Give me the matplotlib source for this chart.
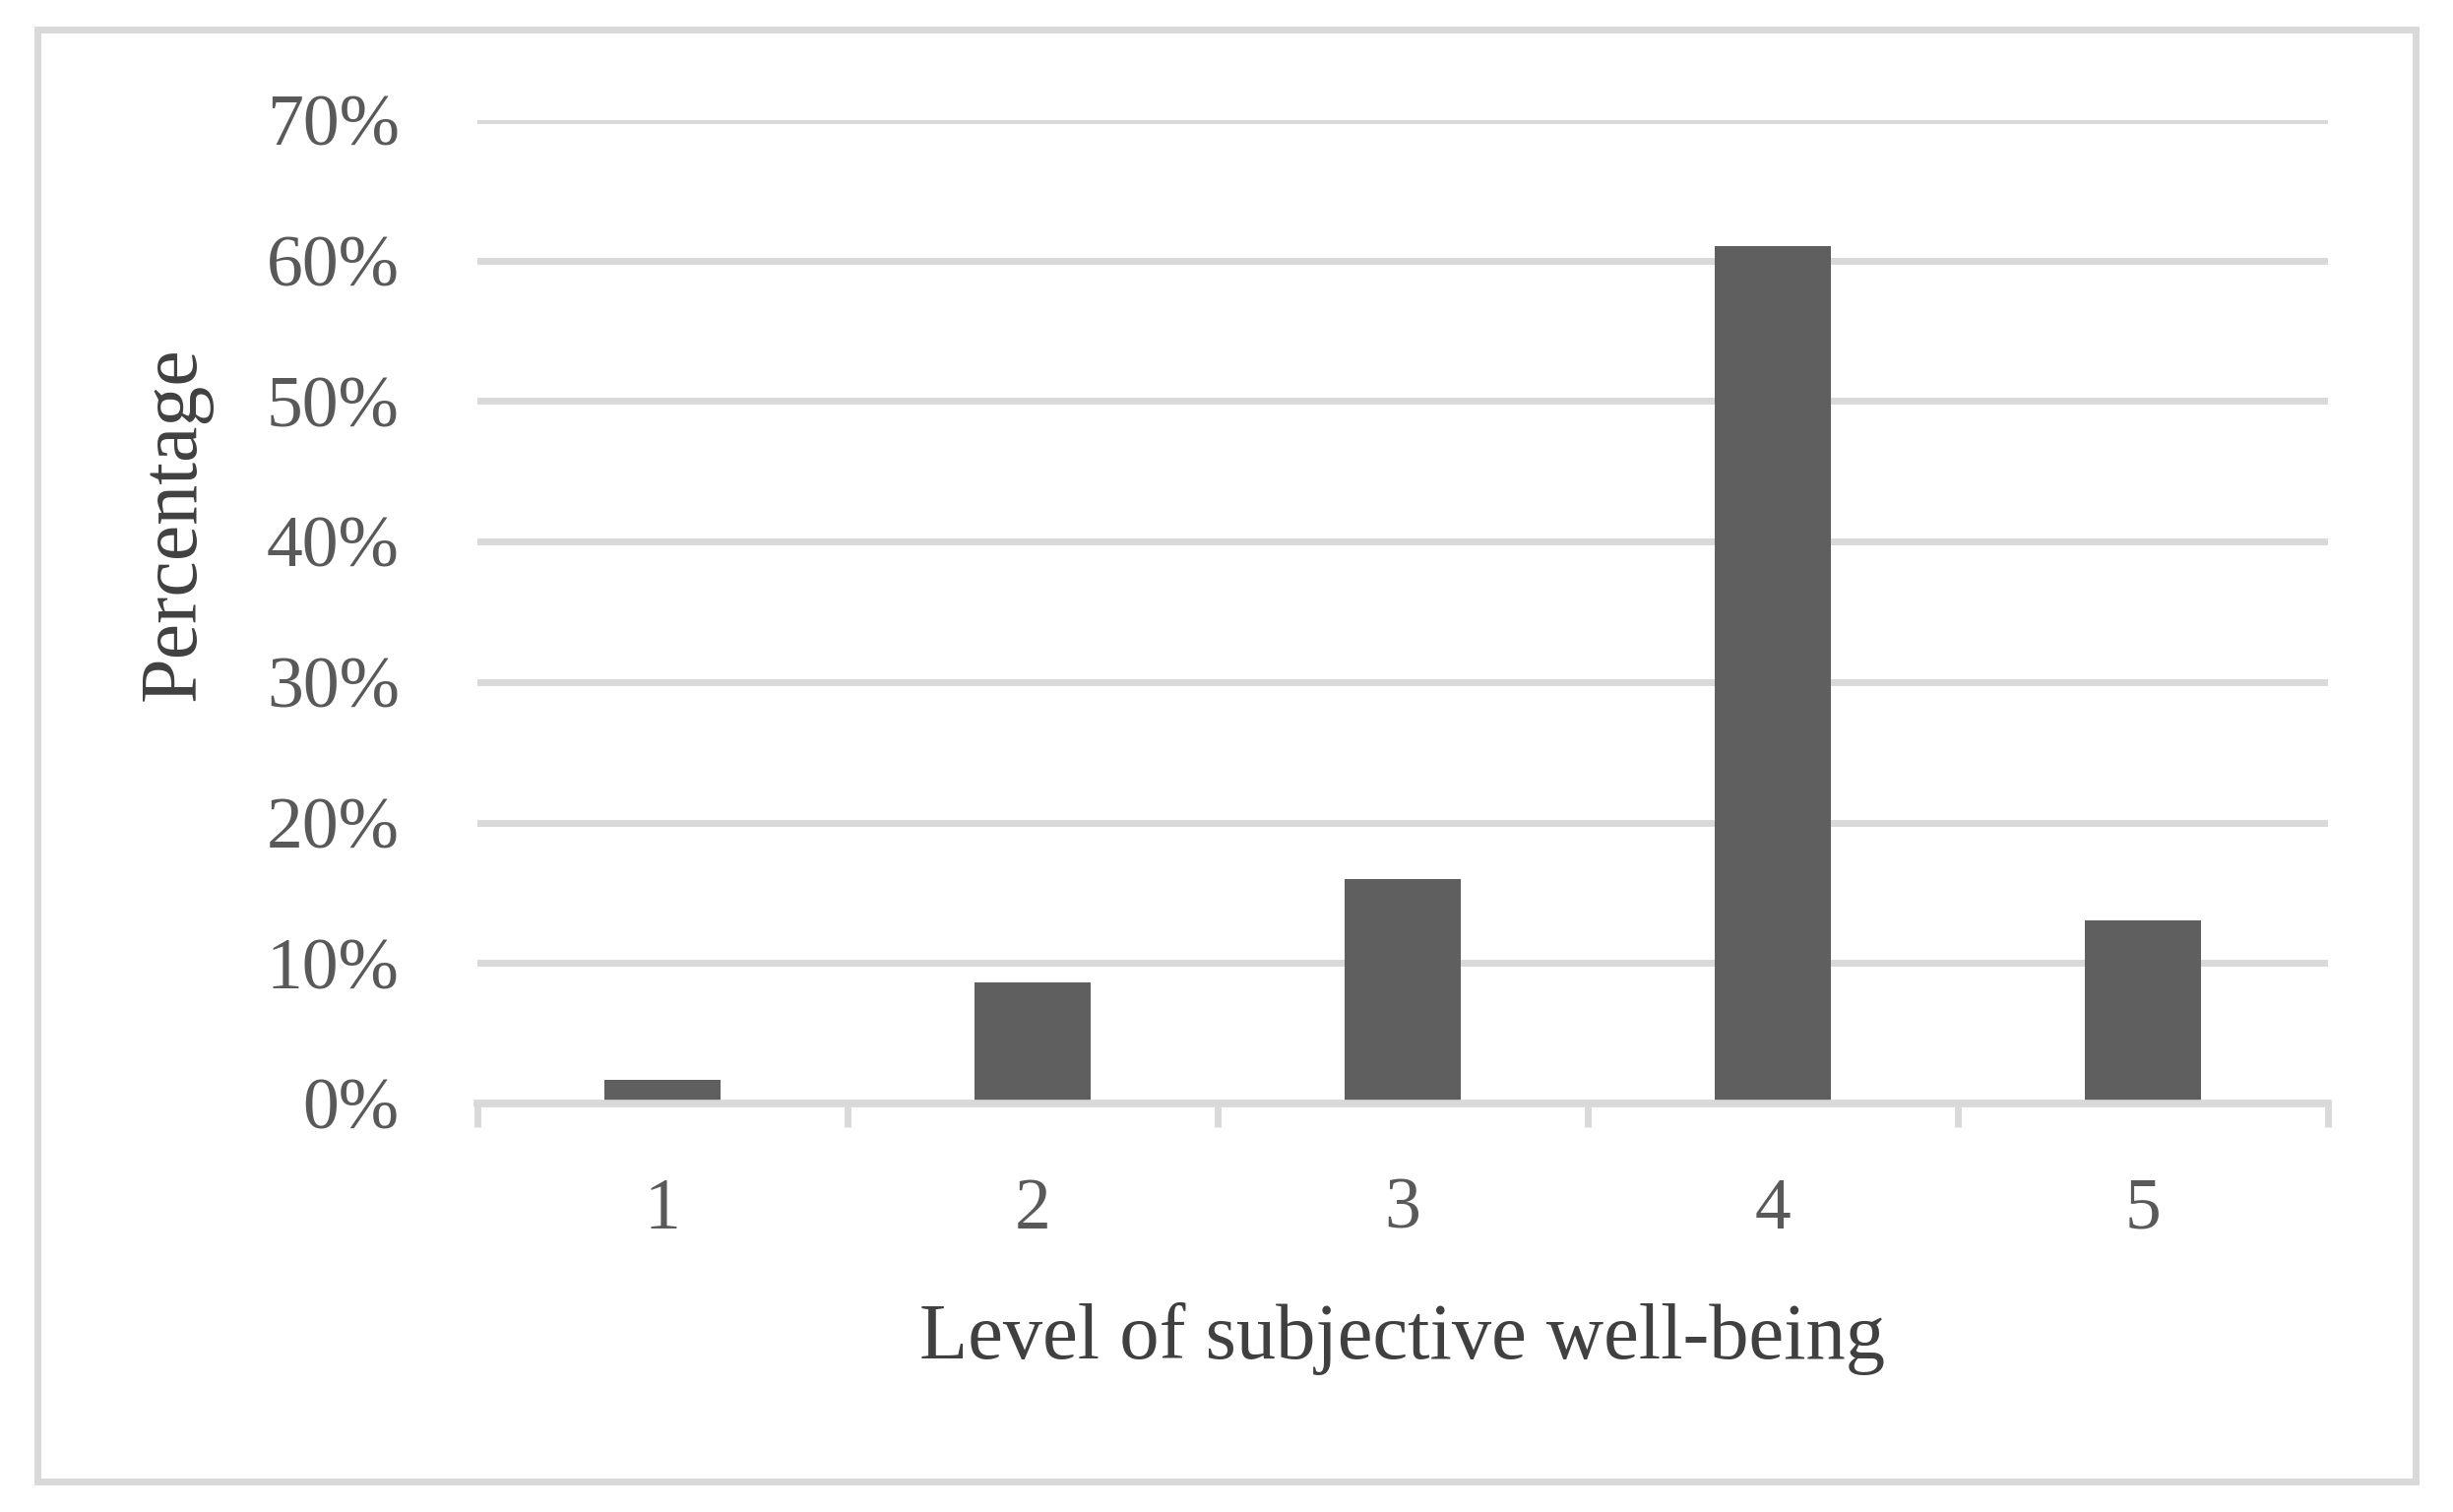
import matplotlib
matplotlib.use("Agg")
import matplotlib.pyplot as plt
from matplotlib.patches import Rectangle
from matplotlib.ticker import FuncFormatter, FixedLocator

categories = ["1", "2", "3", "4", "5"]
values = [1.7, 8.6, 16.0, 61.0, 13.0]
y_ticks = [0, 10, 20, 30, 40, 50, 60, 70]
x_label = "Level of subjective well-being"
y_label = "Percentage"

W, H, DPI = 2492, 1536, 100
fig = plt.figure(figsize=(W / DPI, H / DPI), dpi=DPI)
fig.patch.set_facecolor("white")

grid_c = "#D9D9D9"
tick_c = "#595959"
title_c = "#404040"
bar_c = "#5F5F5F"
font = "Liberation Serif"

# outer border
fig.patches.append(Rectangle((38 / W, (H - 1505) / H), (2454 - 38) / W, (1505 - 30) / H,
                             transform=fig.transFigure, fill=False, edgecolor=grid_c,
                             linewidth=5.0))

left, right = 485 / W, 2365 / W
bottom, top = (H - 1121) / H, (H - 122) / H
ax = fig.add_axes([left, bottom, right - left, top - bottom])

x = list(range(len(categories)))
ax.bar(x, values, width=0.316, color=bar_c, zorder=3)
ax.set_xlim(-0.5, len(categories) - 0.5)
ax.set_ylim(0, 70)

ax.set_yticks(y_ticks)
ax.yaxis.set_major_formatter(FuncFormatter(lambda v, p: f"{int(v)}%"))
ax.grid(axis="y", color=grid_c, linewidth=5.0, zorder=0)
ax.set_axisbelow(True)
ax.tick_params(axis="y", length=0, pad=57, labelsize=53, labelcolor=tick_c)

ax.set_xticks(x)
ax.set_xticklabels(categories)
ax.tick_params(axis="x", which="major", length=0, pad=54, labelsize=53, labelcolor=tick_c)
ax.xaxis.set_minor_locator(FixedLocator([i - 0.5 for i in range(len(categories) + 1)]))
ax.tick_params(axis="x", which="minor", length=17, width=5.0, color=grid_c, direction="out")

for lab in ax.get_xticklabels() + ax.get_yticklabels():
    lab.set_fontfamily(font)

for s in ["top", "right", "left"]:
    ax.spines[s].set_visible(False)
ax.spines["bottom"].set_color(grid_c)
ax.spines["bottom"].set_linewidth(5.5)
ax.spines["bottom"].set_zorder(4)

fig.text((left + right) / 2, (H - 1360) / H, x_label, ha="center", va="center",
         fontsize=58, color=title_c, fontfamily=font)
fig.text(178 / W, (H - 532) / H, y_label, ha="center", va="center", rotation=90,
         fontsize=59, color=title_c, fontfamily=font)

fig.savefig("out.png", dpi=DPI, facecolor="white")
